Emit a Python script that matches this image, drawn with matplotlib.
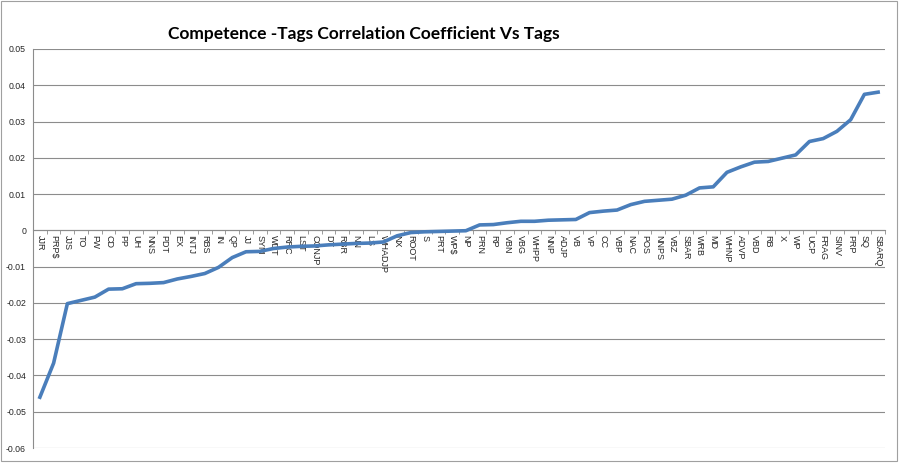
import numpy as np
import matplotlib
matplotlib.use("Agg")
import matplotlib.pyplot as plt
from matplotlib.patches import Rectangle

# tags, ordered by correlation coefficient
TAGS = ["JJR", "PRP$", "JJS", "TO", "FW", "CD", "PP", "UH", "NNS", "PDT",
        "EX", "INTJ", "RBS", "IN", "QP", "JJ", "SYM", "WDT", "RRC", "LST",
        "CONJP", "DT", "RBR", "NN", "LS", "WHADJP", "NX", "ROOT", "S", "PRT",
        "WP$", "NP", "PRN", "RP", "VBN", "VBG", "WHPP", "NNP", "ADJP", "VB",
        "VP", "CC", "VBP", "NAC", "POS", "NNPS", "VBZ", "SBAR", "WRB", "MD",
        "WHNP", "ADVP", "VBD", "RB", "X", "WP", "UCP", "FRAG", "SINV", "PRP",
        "SQ", "SBARQ"]

CORR = [-0.0460, -0.0366, -0.0202, -0.0193, -0.0184, -0.0162, -0.0161, -0.0147,
        -0.0146, -0.0144, -0.0134, -0.0127, -0.0119, -0.0102, -0.0075, -0.0059,
        -0.0058, -0.0050, -0.0046, -0.0044, -0.0043, -0.0040, -0.0038, -0.0036,
        -0.0035, -0.0032, -0.0015, -0.0006, -0.0004, -0.0003, -0.0002, -0.0001,
        0.0015, 0.0016, 0.0021, 0.0025, 0.0025, 0.0028, 0.0029, 0.0030,
        0.0049, 0.0053, 0.0056, 0.0071, 0.0080, 0.0083, 0.0086, 0.0097,
        0.0117, 0.0120, 0.0160, 0.0175, 0.0188, 0.0190, 0.0199, 0.0208,
        0.0245, 0.0253, 0.0273, 0.0305, 0.0375, 0.0381]

Y_TICKS = [0.05, 0.04, 0.03, 0.02, 0.01, 0, -0.01, -0.02, -0.03, -0.04, -0.05, -0.06]
Y_LABELS = ["0.05", "0.04", "0.03", "0.02", "0.01", "0", "-0.01", "-0.02",
            "-0.03", "-0.04", "-0.05", "-0.06"]

GRID = "#8c8c8c"
BLUE = "#4a7ebb"
TEXT = "#262626"

fig = plt.figure(figsize=(9.02, 4.70), dpi=100)
ax = fig.add_axes([33 / 902, 1 - 448 / 470, 852 / 902, 399 / 470])

x = np.arange(len(TAGS))
ax.plot(x, CORR, color=BLUE, linewidth=2.6, solid_joinstyle="round", zorder=3)

ax.set_xlim(-0.5, len(TAGS) - 0.5)
ax.set_ylim(-0.06, 0.05)
ax.set_yticks(Y_TICKS)
ax.set_yticklabels(Y_LABELS, fontsize=6.3, family="Liberation Sans", color=TEXT)
ax.tick_params(axis="y", length=0, pad=5)
ax.yaxis.grid(True, color=GRID, linewidth=0.8)
ax.set_axisbelow(True)

# category axis sits on the zero line
ax.spines["bottom"].set_position(("data", 0))
ax.spines["bottom"].set_color(GRID)
ax.spines["left"].set_color(GRID)
ax.spines["top"].set_visible(False)
ax.spines["right"].set_visible(False)
ax.set_xticks(x)
ax.set_xticklabels(TAGS, rotation=270, fontsize=6.5, family="Liberation Sans",
                   va="top", ha="center", color=TEXT)
ax.tick_params(axis="x", which="major", length=0, pad=3)
ax.set_xticks(np.arange(-0.5, len(TAGS), 1), minor=True)
ax.tick_params(axis="x", which="minor", length=3, color=GRID, direction="out")

fig.text(364 / 902, 1 - 34 / 470, "Competence -Tags Correlation Coefficient Vs Tags",
         ha="center", va="center", fontsize=12.5, fontweight="bold", family="Lato")

# chart border
fig.patches.append(Rectangle((0.001, 1 - 461 / 470), 896 / 902, 460 / 470,
                             transform=fig.transFigure, fill=False,
                             edgecolor="#a0a0a0", linewidth=0.8))

fig.savefig("out.png", dpi=100)
